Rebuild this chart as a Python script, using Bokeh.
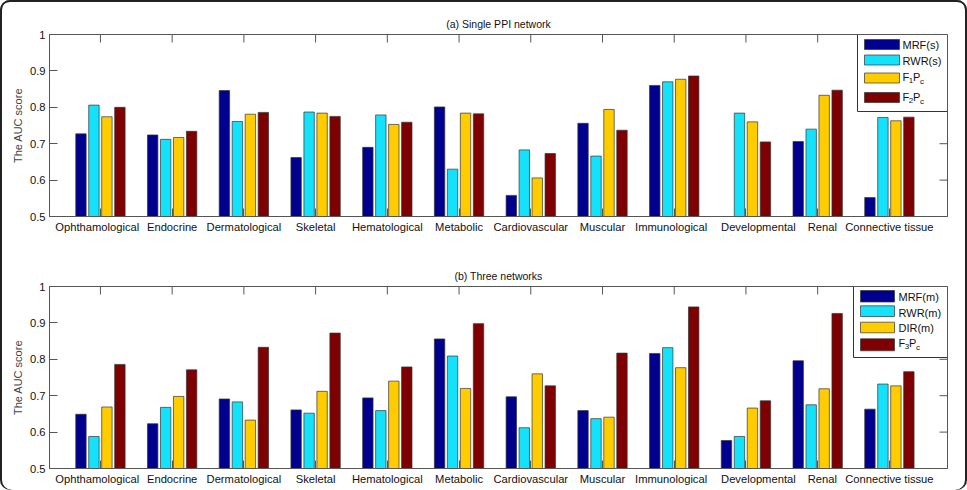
import numpy as np
from bokeh.plotting import figure
from bokeh.models import FixedTicker, Range1d
from bokeh.layouts import column
from bokeh.embed import file_html
from bokeh.resources import INLINE
from bokeh.core.properties import value

categories = ["Ophthamological", "Endocrine", "Dermatological", "Skeletal",
              "Hematological", "Metabolic", "Cardiovascular", "Muscular",
              "Immunological", "Developmental", "Renal", "Connective tissue"]

# (a) Single PPI network
a_mrf = [0.727, 0.724, 0.846, 0.662, 0.690, 0.801, 0.558, 0.756, 0.860, np.nan, 0.706, 0.552]
a_rwr = [0.806, 0.712, 0.761, 0.787, 0.779, 0.630, 0.683, 0.666, 0.870, 0.784, 0.740, 0.772]
a_f1pc = [0.774, 0.717, 0.781, 0.784, 0.753, 0.784, 0.606, 0.794, 0.877, 0.760, 0.833, 0.763]
a_f2pc = [0.800, 0.734, 0.786, 0.775, 0.759, 0.782, 0.673, 0.737, 0.886, 0.705, 0.847, 0.773]

# (b) Three networks
b_mrf = [0.649, 0.623, 0.691, 0.661, 0.694, 0.856, 0.697, 0.659, 0.816, 0.577, 0.796, 0.663]
b_rwr = [0.588, 0.668, 0.683, 0.652, 0.659, 0.809, 0.612, 0.637, 0.832, 0.588, 0.675, 0.732]
b_dir = [0.669, 0.698, 0.633, 0.712, 0.740, 0.720, 0.760, 0.641, 0.777, 0.666, 0.719, 0.727]
b_f3pc = [0.786, 0.771, 0.833, 0.872, 0.779, 0.898, 0.727, 0.817, 0.944, 0.686, 0.926, 0.766]

y_ticks = [0.5, 0.6, 0.7, 0.8, 0.9, 1.0]
y_tick_labels = ["0.5", "0.6", "0.7", "0.8", "0.9", "1"]

colors = ["#00008F", "#14E2FA", "#FFCC00", "#7F0000"]

NB = "\u00a0"
# small horizontal nudges of a few category labels, as in the reference
label_pad = {0: ("", NB * 2), 8: ("", NB * 2), 9: (NB * 8, ""), 10: (NB * 3, "")}

FONT = "Liberation Sans"
W, H = 967, 245
FL, FR = 49, 20
XMIN, XMAX = -0.71, 11.81
YMIN, YMAX = 0.5, 1.0
FW = W - FL - FR
FH = 182
SX = FW / (XMAX - XMIN)
SY = FH / (YMAX - YMIN)
offsets = [-0.2715, -0.0905, 0.0905, 0.2715]
BW = 0.145
AX_COL = "#555555"
TICK = 8
TXT_SHIFT = -3.5


def make_panel(title, series, legend, ft):
    fb = H - ft - FH
    p = figure(width=W, height=H, x_range=Range1d(XMIN, XMAX), y_range=Range1d(YMIN, YMAX),
               output_backend="svg", toolbar_location=None,
               min_border_left=FL, min_border_right=FR, min_border_top=ft, min_border_bottom=fb,
               title=title)
    p.title.align = "center"
    p.title.text_font = FONT
    p.title.text_font_size = "10.5px"
    p.title.text_font_style = "normal"
    p.title.text_color = "#111111"
    p.title.standoff = 10
    p.xgrid.visible = False
    p.ygrid.visible = False
    p.outline_line_color = AX_COL
    p.background_fill_color = "white"
    p.border_fill_color = None

    xs = list(range(len(categories)))
    for j, vals in enumerate(series):
        p.vbar(x=[i + offsets[j] for i in xs], top=np.array(vals, dtype=float), bottom=0,
               width=BW, fill_color=colors[j], line_color="#333333", line_width=0.7)

    # axes
    xa = p.xaxis[0]
    xa.ticker = FixedTicker(ticks=xs)
    labels = {}
    for i, c in enumerate(categories):
        pre, post = label_pad.get(i, ("", ""))
        labels[i] = pre + c + post
    xa.major_label_overrides = labels
    ya = p.yaxis[0]
    ya.ticker = FixedTicker(ticks=y_ticks)
    ya.major_label_overrides = {t: l for t, l in zip(y_ticks, y_tick_labels)}
    ya.axis_label = "The AUC score"
    ya.axis_label_text_font_style = "normal"
    ya.axis_label_text_font = FONT
    ya.axis_label_text_font_size = "11px"
    ya.axis_label_standoff = 3
    for ax in (xa, ya):
        ax.major_label_text_font = FONT
        ax.major_label_text_font_size = "11.2px"
        ax.major_label_text_color = "#111111"
        ax.major_label_standoff = 4
        ax.major_tick_in = TICK
        ax.major_tick_out = 0
        ax.minor_tick_in = 0
        ax.minor_tick_out = 0
        ax.axis_line_color = AX_COL
        ax.major_tick_line_color = AX_COL

    # inward ticks on the top and right sides of the box
    p.segment(x0=xs, x1=xs, y0=[YMAX] * len(xs), y1=[YMAX - TICK / SY] * len(xs),
              line_color=AX_COL, line_width=1)
    p.segment(x0=[XMAX] * len(y_ticks), x1=[XMAX - TICK / SX] * len(y_ticks),
              y0=y_ticks, y1=y_ticks, line_color=AX_COL, line_width=1)

    # legend (drawn in pixel-derived data coordinates)
    def X(px):
        return XMIN + (px - FL) / SX

    def Y(py):
        return YMAX - (py - ft) / SY

    bl, br, bt, bb = legend["box"]
    p.quad(left=[X(bl)], right=[X(br)], top=[Y(bt)], bottom=[Y(bb)],
           fill_color="white", line_color="#333333", line_width=1)
    sl, sr, tx = legend["sw_x"]
    tx_, ty_, tt_, ts_ = [], [], [], []
    for k, (s_top, s_h, parts) in enumerate(legend["entries"]):
        p.quad(left=[X(sl)], right=[X(sr)], top=[Y(s_top)], bottom=[Y(s_top + s_h)],
               fill_color=colors[k], line_color="#333333", line_width=0.7)
        for (txt, dx, base, size) in parts:
            tx_.append(X(tx + dx))
            ty_.append(Y(base + TXT_SHIFT))
            tt_.append(txt)
            ts_.append(size)
    for size in sorted(set(ts_)):
        idx = [i for i, s in enumerate(ts_) if s == size]
        p.text(x=[tx_[i] for i in idx], y=[ty_[i] for i in idx], text=[tt_[i] for i in idx],
               text_font=value(FONT), text_font_size=value(size),
               text_baseline="alphabetic", text_align="left", text_color="#111111")
    return p


legend_a = {
    "box": (857, 947, 34, 111),
    "sw_x": (864, 899, 902),
    "entries": [
        (39, 10, [("MRF(s)", 0, 48, "11px")]),
        (54.5, 10, [("RWR(s)", 0, 63.5, "11px")]),
        (72.5, 10, [("F", 0, 80, "11px"), ("1", 6.3, 83.5, "8px"),
                    ("P", 10.5, 80, "11px"), ("c", 17.5, 84, "8px")]),
        (92, 10, [("F", 0, 100, "11px"), ("2", 6.3, 103.5, "8px"),
                  ("P", 10.5, 100, "11px"), ("c", 17.5, 104, "8px")]),
    ],
}

legend_b = {
    "box": (853, 947, 41, 112),
    "sw_x": (860, 894, 898),
    "entries": [
        (45, 11.5, [("MRF(m)", 0, 54.6, "11px")]),
        (60.3, 10.7, [("RWR(m)", 0, 70.6, "11px")]),
        (76.7, 10.6, [("DIR(m)", 0, 85.6, "11px")]),
        (93.3, 12, [("F", 0, 100.5, "11px"), ("3", 6.3, 104.5, "8px"),
                    ("P", 10.5, 100.5, "11px"), ("c", 17.5, 105, "8px")]),
    ],
}

p1 = make_panel("(a) Single PPI network", [a_mrf, a_rwr, a_f1pc, a_f2pc], legend_a, 34)
p2 = make_panel("(b) Three networks", [b_mrf, b_rwr, b_dir, b_f3pc], legend_b, 41)

layout = column(p1, p2, spacing=0,
                styles={"background-color": "white", "border-radius": "10px",
                        "box-shadow": "inset 2px 0 0 #222222, inset -2px 0 0 #222222, inset 0 2px 0 #222222"})

open("out.html", "w").write(file_html(layout, INLINE))
